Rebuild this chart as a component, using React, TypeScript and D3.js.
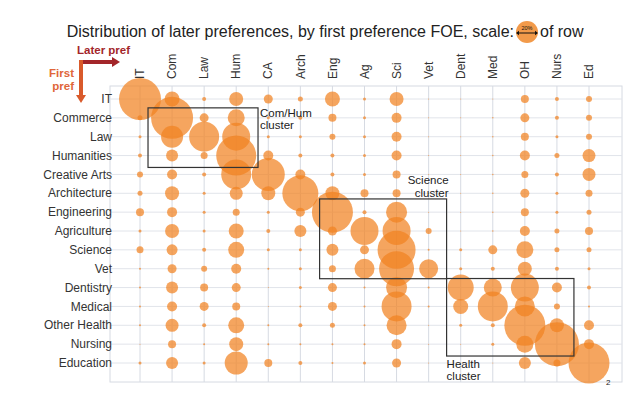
import * as d3 from 'd3';
import React, { useEffect } from 'react';

// first preference (rows) and later preference (columns)
const rowNames = ['IT', 'Commerce', 'Law', 'Humanities', 'Creative Arts', 'Architecture', 'Engineering', 'Agriculture', 'Science', 'Vet', 'Dentistry', 'Medical', 'Other Health', 'Nursing', 'Education'];
const colNames = ['IT', 'Com', 'Law', 'Hum', 'CA', 'Arch', 'Eng', 'Ag', 'Sci', 'Vet', 'Dent', 'Med', 'OH', 'Nurs', 'Ed'];

// % of row
const itRow = [42, 15, 4, 14, 9, 5, 15, 3, 14, 1, 1, 1, 8, 4, 6];
const commerceRow = [5, 42, 9, 17, 3, 4, 8, 3, 10, 1, 1, 1.5, 9, 4, 6];
const lawRow = [3, 22, 30, 28, 3, 3, 6, 3, 10, 1, 1, 1.5, 8, 3, 6];
const humanitiesRow = [4, 12, 7, 40, 10, 4, 4, 3, 10, 1, 1, 1.5, 10, 5, 13];
const creativeArtsRow = [6, 10, 4, 30, 33, 10, 4, 3, 8, 1, 1, 1.5, 7, 4, 13];
const architectureRow = [5, 14, 3, 13, 14, 36, 14, 8, 8, 1, 1, 1.5, 9, 3, 7];
const engineeringRow = [8, 10, 3, 7, 3, 9, 41, 4, 21, 1, 1, 1.5, 8, 3, 5];
const agricultureRow = [3, 14, 3, 15, 4, 12, 9, 28, 28, 6, 1, 1.5, 10, 5, 8];
const scienceRow = [7, 11, 4, 16, 3, 3, 12, 9, 38, 2, 3, 9, 17, 5, 5];
const vetRow = [2, 9, 6, 10, 2, 3, 7, 20, 35, 19, 3, 4, 14, 4, 3];
const dentistryRow = [2, 12, 8, 9, 1, 3, 9, 2, 21, 2, 26, 18, 28, 10, 4];
const medicalRow = [2, 10, 9, 8, 1, 2, 9, 2, 30, 2, 15, 30, 20, 6, 2];
const otherHealthRow = [2, 13, 4, 16, 2, 4, 5, 2, 20, 1, 3, 4, 41, 14, 10];
const nursingRow = [1, 8, 2, 14, 2, 2, 2, 2, 10, 1, 1, 3, 17, 44, 10];
const educationRow = [3, 12, 3, 23, 8, 4, 2, 3, 9, 1, 1, 1, 12, 7, 41];

const shares = [itRow, commerceRow, lawRow, humanitiesRow, creativeArtsRow, architectureRow, engineeringRow,
  agricultureRow, scienceRow, vetRow, dentistryRow, medicalRow, otherHealthRow, nursingRow, educationRow];

const clusterNames = ['Com/Hum', 'Science', 'Health'];
const clusterCols = [['Com', 'Hum'], ['Eng', 'Vet'], ['Dent', 'Nurs']];
const clusterRows = [['Commerce', 'Humanities'], ['Engineering', 'Vet'], ['Dentistry', 'Nursing']];

const legendValue = 20;

const W = 630, H = 397;
const plot = { left: 110, right: 622, top: 86, bottom: 382 };
const font = "'Liberation Sans', Arial, Helvetica, sans-serif";
const bubbleFill = '#f18221';
const textCol = '#333';

// box padding in steps: [left, right, top, bottom]
const clusterPad = [[0.75, 0.68, 0.53, 0.63], [0.4, 0.56, 0.7, 0.53], [0.44, 0.53, 0.48, 0.63]];

const App = () => {
  useEffect(() => { document.body.style.margin = '0'; }, []);

  const x = d3.scalePoint<string>().domain(colNames).range([140, 589]);
  const y = d3.scalePoint<string>().domain(rowNames).range([99, 363]);
  const diam = d3.scaleLinear().domain([0, 20]).range([0, 20]);
  const sx = x.step(), sy = y.step();

  const cells = shares.flatMap((row, i) => row.map((v, j) => ({ r: rowNames[i], c: colNames[j], v })));

  return (
    <svg width={W} height={H} style={{ display: 'block', fontFamily: font }}>
      {/* title with scale bubble */}
      <text x={514} y={37} textAnchor="end" fontSize={16} fill="#222">
        Distribution of later preferences, by first preference FOE, scale:
      </text>
      <circle cx={527} cy={32} r={diam(legendValue) / 2 + 1} fill="#f29a4a" />
      <line x1={518} x2={536} y1={33} y2={33} stroke="#111" strokeWidth={1} />
      <path d="M516,33 l3,-2.2 v4.4 z M538,33 l-3,-2.2 v4.4 z" fill="#111" />
      <text x={527} y={29.5} textAnchor="middle" fontSize={5.5} fill="#111">{legendValue}%</text>
      <text x={540} y={37} fontSize={16} fill="#222">of row</text>

      {/* direction key */}
      <text x={77} y={54} fontSize={11.5} fontWeight="bold" fill="#a3262a">Later pref</text>
      <text x={74} y={77} fontSize={11.5} fontWeight="bold" fill="#e0663a" textAnchor="end">First</text>
      <text x={74} y={90} fontSize={11.5} fontWeight="bold" fill="#e0663a" textAnchor="end">pref</text>
      <line x1={81} x2={112} y1={62} y2={62} stroke="#a3262a" strokeWidth={4} />
      <path d="M112,57 L120,62 L112,67 z" fill="#a3262a" />
      <line x1={81} x2={81} y1={60} y2={95} stroke="#d95a2b" strokeWidth={4} />
      <path d="M76,95 L81,103 L86,95 z" fill="#d95a2b" />

      {/* grid */}
      <rect x={plot.left} y={plot.top} width={plot.right - plot.left} height={plot.bottom - plot.top}
        fill="none" stroke="#d6dae2" strokeWidth={1} />
      {colNames.map(c => (
        <line key={'v' + c} x1={x(c)} x2={x(c)} y1={plot.top} y2={plot.bottom} stroke="#d6dae2" strokeWidth={1} />
      ))}
      {rowNames.map(r => (
        <line key={'h' + r} x1={plot.left} x2={plot.right} y1={y(r)} y2={y(r)} stroke="#e1e4ea" strokeWidth={1} />
      ))}

      {/* bubbles */}
      <g fill={bubbleFill} fillOpacity={0.72}>
        {cells.map(d => (
          <circle key={d.r + d.c} cx={x(d.c)} cy={y(d.r)} r={diam(d.v) / 2} />
        ))}
      </g>

      {/* axis labels */}
      {rowNames.map(r => (
        <text key={'rl' + r} x={112} y={y(r)} dy="0.35em" textAnchor="end" fontSize={12} fill={textCol}>{r}</text>
      ))}
      {colNames.map(c => (
        <text key={'cl' + c} transform={`translate(${x(c)},79) rotate(-90)`} dy="0.35em" fontSize={12} fill={textCol}>{c}</text>
      ))}

      {/* cluster boxes */}
      {clusterNames.map((name, i) => {
        const [pl, pr, pt, pb] = clusterPad[i];
        const x0 = x(clusterCols[i][0])! - pl * sx, x1 = x(clusterCols[i][1])! + pr * sx;
        const y0 = y(clusterRows[i][0])! - pt * sy, y1 = y(clusterRows[i][1])! + pb * sy;
        let label;
        if (i === 0) {
          label = (<text y={y0 + 9} fontSize={11.5} fill="#222">
            <tspan x={x1 + 2}>{name}</tspan><tspan x={x1 + 2} dy={12.5}>cluster</tspan></text>);
        } else if (i === 1) {
          label = (<text y={y0 - 15} fontSize={11.5} fill="#222" textAnchor="end">
            <tspan x={x1 + 2}>{name}</tspan><tspan x={x1 + 2} dy={13}>cluster</tspan></text>);
        } else {
          label = (<text y={y1 + 11.5} fontSize={11.5} fill="#222">
            <tspan x={x0}>{name}</tspan><tspan x={x0} dy={12}>cluster</tspan></text>);
        }
        return (
          <g key={name}>
            <rect x={x0} y={y0} width={x1 - x0} height={y1 - y0} fill="none" stroke="#333" strokeWidth={1.2} />
            {label}
          </g>
        );
      })}

      <text x={606} y={385} fontSize={8} fill="#222">2</text>
    </svg>
  );
};

export default App;
